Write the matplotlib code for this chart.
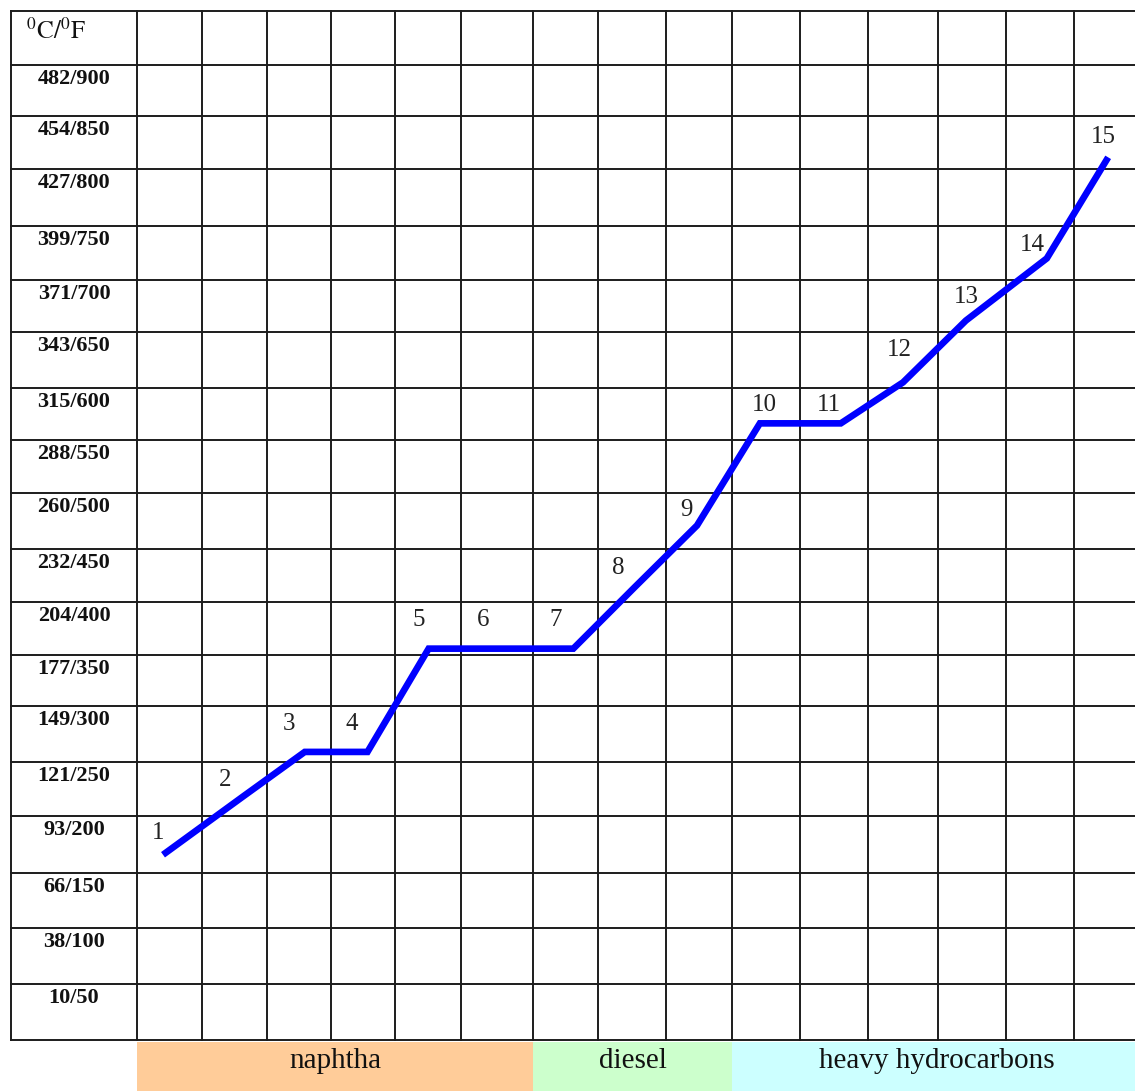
import matplotlib
matplotlib.use('Agg')
import numpy as np
import matplotlib.pyplot as plt
from matplotlib.patches import Rectangle

################################################################################
# Dados da curva (pontos 1..15): posicao em colunas e temperatura em graus F
#
point_labels = ['1', '2', '3', '4', '5', '6', '7', '8', '9', '10',
                '11', '12', '13', '14', '15']
point_cols = [0.40, 1.63, 2.59, 3.57, 4.51, 5.47, 6.62, 7.54, 8.47, 9.41,
              10.60, 11.50, 12.41, 13.60, 14.51]
point_temp_f = [191, 243, 284, 284, 381, 381, 381, 439, 496, 591,
                591, 630, 686, 745, 836]

# Rotulos das linhas (de cima para baixo)
row_labels = ['482/900', '454/850', '427/800', '399/750', '371/700',
              '343/650', '315/600', '288/550', '260/500', '232/450',
              '204/400', '177/350', '149/300', '121/250', '93/200',
              '66/150', '38/100', '10/50']
row_temp_f = [900, 850, 800, 750, 700, 650, 600, 550, 500, 450,
              400, 350, 300, 250, 200, 150, 100, 50]

# Faixas de produtos (em colunas)
band_names = ['naphtha', 'diesel', 'heavy hydrocarbons']
band_start = [0, 6, 9]
band_end = [6, 9, 15]
band_colors = ['#FFCC99', '#CCFFCC', '#CCFFFF']

################################################################################
# Layout: bordas da grade em pixels da imagem (a grade original nao e regular)
#
W, H = 1135, 1091
col_edges_px = [11, 137, 202, 267, 331, 395, 461, 533, 598, 666, 732, 800,
                868, 938, 1006, 1074, 1141]
row_edges_px = [11, 65, 116, 169, 226, 280, 332, 388, 440, 493, 549, 602,
                655, 706, 762, 816, 873, 928, 984, 1040]

# Deslocamento (px) de cada numero em relacao ao seu ponto
label_offsets = [(-5, 22), (-18, 17), (-16, 28), (-16, 28), (-10, 29),
                 (-12, 29), (-18, 29), (-16, 19), (-11, 15), (4, 18),
                 (-12, 18), (-4, 32), (0, 24), (-14, 13), (-5, 20)]

PT = 72.0 / 100  # px -> pontos


################################################################################
# Desenha a tabela com a curva
#
def graficoGerar():
    plt.rcParams['font.family'] = ['Liberation Serif', 'DejaVu Serif']
    plt.rcParams['mathtext.fontset'] = 'stix'

    fig = plt.figure(figsize=(W / 100, H / 100), dpi=100)
    ax = fig.add_axes([col_edges_px[0] / W, 1 - row_edges_px[-1] / H,
                       (col_edges_px[-1] - col_edges_px[0]) / W,
                       (row_edges_px[-1] - row_edges_px[0]) / H])

    # Escalas por partes: coluna -> pixel, temperatura -> pixel
    cols = np.arange(-1, len(col_edges_px) - 1, dtype=float)
    cpx = np.array(col_edges_px, dtype=float)
    ax.set_xscale('function', functions=(
        lambda v: np.interp(v, cols, cpx),
        lambda p: np.interp(p, cpx, cols)))

    nrows = len(row_edges_px) - 1
    temps = 25.0 + 50.0 * np.arange(nrows + 1)        # crescente
    rpx = np.array(row_edges_px[::-1], dtype=float)   # px decrescente
    ax.set_yscale('function', functions=(
        lambda t: -np.interp(t, temps, rpx),
        lambda v: np.interp(-v, rpx[::-1], temps[::-1])))

    ax.set_xlim(cols[0], cols[-1])
    ax.set_ylim(temps[0], temps[-1])
    ax.axis('off')

    # Linhas da grade
    lw = 1.4
    gcor = '#1c1c1c'
    for t in temps:
        ax.plot([cols[0], cols[-1]], [t, t], color=gcor, lw=lw,
                clip_on=False, solid_capstyle='projecting')
    for c in cols:
        ax.plot([c, c], [temps[0], temps[-1]], color=gcor, lw=lw,
                clip_on=False, solid_capstyle='projecting')

    # Rotulos das linhas
    for lab, t in zip(row_labels, row_temp_f):
        ax.annotate(lab, (-0.5, t + 25), xytext=(0, -14 * PT),
                    textcoords='offset points', ha='center', va='center',
                    fontsize=16, fontweight='bold', color='#111111')
    ax.annotate(r'$\mathrm{^0C/^0F}$', (cols[0], temps[-1]),
                xytext=(15 * PT, -20 * PT), textcoords='offset points',
                ha='left', va='center', fontsize=18, color='#111111')

    # Curva
    ax.plot(point_cols, point_temp_f, color='#0000FF', lw=4.8,
            solid_joinstyle='miter', solid_capstyle='butt', zorder=5)
    for lab, x, t, off in zip(point_labels, point_cols, point_temp_f,
                              label_offsets):
        ax.annotate(lab, (x, t), xytext=(off[0] * PT, off[1] * PT),
                    textcoords='offset points', ha='center', va='center',
                    fontsize=18, color='#222222')

    # Faixas de produtos abaixo da grade
    alt = row_edges_px[-1] - row_edges_px[0]
    y_top = -1.5 / alt
    y_bot = -(H - row_edges_px[-1] + 2) / alt
    trans = ax.get_xaxis_transform()
    for nome, a, b, cor in zip(band_names, band_start, band_end, band_colors):
        ax.add_patch(Rectangle((a, y_bot), b - a, y_top - y_bot,
                               transform=trans, facecolor=cor,
                               edgecolor='none', clip_on=False))
        xm = np.interp((np.interp(a, cols, cpx) + np.interp(b, cols, cpx)) / 2,
                       cpx, cols)
        ax.text(xm, -21 / alt, nome, transform=trans, ha='center',
                va='center', fontsize=21, color='#111111')

    fig.savefig('out.png', dpi=100)
    plt.close(fig)
    return None


graficoGerar()
